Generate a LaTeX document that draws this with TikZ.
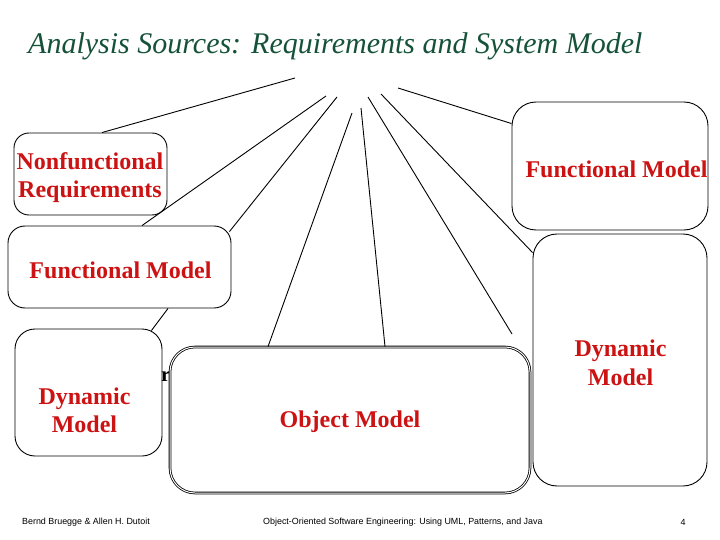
\documentclass[tikz,border=0pt]{standalone}
\usepackage{fontspec}
\setmainfont{Liberation Serif}
\newfontfamily\footfont{Liberation Sans}
\definecolor{titlegreen}{RGB}{22,82,58}
\definecolor{boxred}{RGB}{204,18,18}
\begin{document}
\begin{tikzpicture}[x=1pt,y=-1pt,
  box/.style={draw=black, line width=0.9pt, fill=white, rounded corners=#1, inner sep=0pt},
  lbl/.style={text=boxred, font=\bfseries\fontsize{24}{28.5}\selectfont, align=center, inner sep=0pt},
  conn/.style={draw=black, line width=0.9pt},
  foot/.style={font=\footfont\fontsize{8.9}{10}\selectfont, inner sep=0pt}]
\useasboundingbox[fill=white] (0,0) rectangle (720,540);

% title
\node[anchor=west, text=titlegreen, font=\itshape\fontsize{30}{34}\selectfont, inner sep=0pt] (title) at (28,46) {Analysis Sources: Requirements and System Model};

% free ends near the title
\coordinate (a0) at (295,78);
\coordinate (b0) at (326,96);
\coordinate (c0) at (337,97);
\coordinate (d0) at (352,113);
\coordinate (e0) at (361,108);
\coordinate (f0) at (368,97);
\coordinate (f1) at (512,334);
\coordinate (g0) at (381,94);
\coordinate (h0) at (398,88);

% boxes
\node[box=15pt, minimum width=153pt, minimum height=82pt] (nf) at (90.5,174) {};
\node[box=17pt, minimum width=223pt, minimum height=82pt] (fmL) at (119.5,267) {};
\node[box=20pt, minimum width=147pt, minimum height=127pt] (dmL) at (88.5,392.5) {};
\node[box=24pt, minimum width=196pt, minimum height=128pt] (fmR) at (610,166) {};
\node[box=24pt, minimum width=174pt, minimum height=252pt] (dmR) at (620,360) {};

% connectors
\draw[conn] (a0) -- ([xshift=11.5pt]nf.north);
\draw[conn] (b0) -- ([xshift=22.5pt]fmL.north);
\draw[conn] (c0) -- ([xshift=-2pt,yshift=-6pt]fmL.north east);
\draw[conn] (f0) -- (f1);
\draw[conn] (g0) -- ([yshift=-19pt]dmR.north west);
\draw[conn] (h0) -- ([yshift=-22pt]fmR.north west);
\draw[conn] ([xshift=48.5pt]fmL.south) -- ([xshift=-11pt,yshift=-2pt]dmL.north east);

% partly hidden glyph
\node[anchor=base west, inner sep=0pt, font=\bfseries\fontsize{21}{24}\selectfont] (frag) at (161,381) {r};

% object model
\node[box=25pt, double, double distance=1pt, line width=0.8pt, minimum width=360pt, minimum height=146pt] (om) at (350,420) {};
\draw[conn] (d0) -- ([xshift=-82pt]om.north);
\draw[conn] (e0) -- ([xshift=35pt]om.north);

% labels
\node[lbl] (nft) at (90,177.5) {Nonfunctional\\Requirements};
\node[lbl] (fmLt) at (120.5,270) {Functional Model};
\node[lbl] (dmLt) at (84.5,410.5) {Dynamic\\Model};
\node[lbl] (omt) at (350,422) {Object Model};
\node[lbl] (fmRt) at (616.5,169) {Functional Model};
\node[lbl] (dmRt) at (620.5,363) {Dynamic\\Model};

% footer
\node[foot, anchor=west] (f-auth) at (22,522) {Bernd Bruegge \& Allen H. Dutoit};
\node[foot, anchor=west] (f-book) at (263,522) {Object-Oriented Software Engineering: Using UML, Patterns, and Java};
\node[foot] (f-page) at (683,522) {4};
\end{tikzpicture}
\end{document}
